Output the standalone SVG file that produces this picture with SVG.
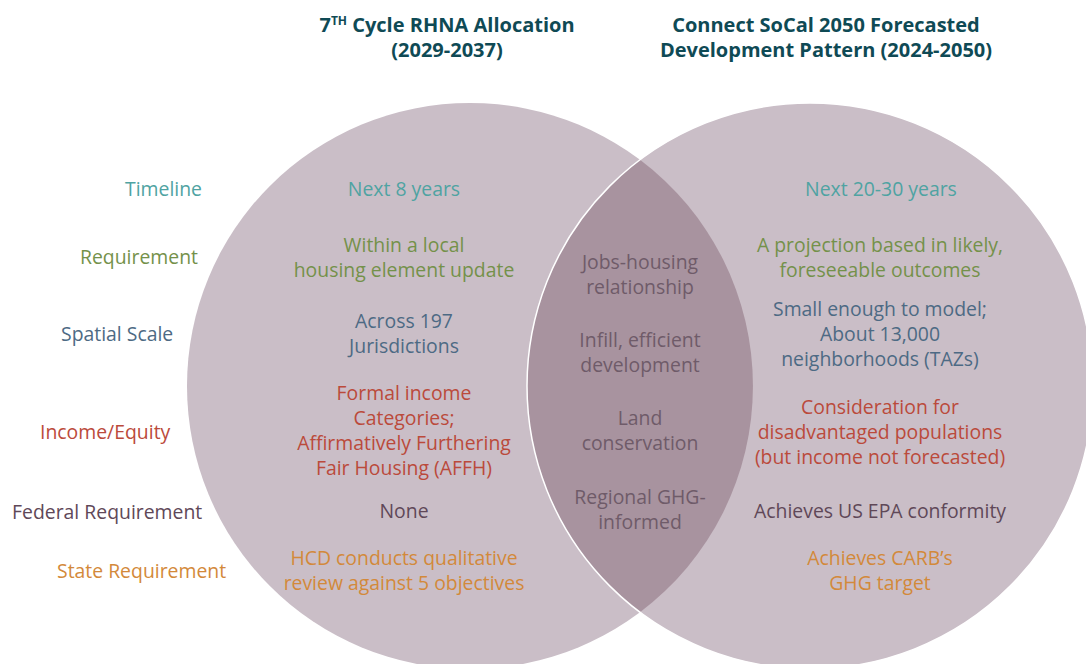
<svg xmlns="http://www.w3.org/2000/svg" width="1086" height="664" viewBox="0 0 1086 664">
<style>
text{font-family:"Open Sans","Noto Sans","Liberation Sans",sans-serif;font-size:19.4px;text-anchor:middle}
.title{font-weight:bold;font-size:20px;fill:#0f4a55}
.lbl{text-anchor:start}
.tl{fill:#4fa3a2}
.rq{fill:#74914a}
.sp{fill:#4d6a84}
.ie{fill:#bb4a3b}
.fd{fill:#5f4858}
.st{fill:#d3893a}
.ln{fill:#6f5b69}
.circ{fill:#cabec7}
</style>
<rect width="1086" height="664" fill="#ffffff"/>
<g id="titles">
<text class="title" x="447" y="32">7<tspan font-size="12" dy="-7">TH</tspan><tspan dy="7"> Cycle RHNA Allocation</tspan></text>
<text class="title" x="447" y="57">(2029-2037)</text>
<text class="title" x="826" y="32">Connect SoCal 2050 Forecasted</text>
<text class="title" x="826" y="57">Development Pattern (2024-2050)</text>
</g>
<g id="circle-rhna">
<circle class="circ" cx="470" cy="386" r="283"/>
</g>
<g id="circle-socal">
<circle class="circ" cx="810" cy="386" r="283"/>
</g>
<g id="overlap">
<path d="M640 159.8 A283 283 0 0 0 640 612.2 A283 283 0 0 0 640 159.8 Z" fill="#a8939f"/>
<circle cx="810" cy="386" r="283" fill="none" stroke="#ffffff" stroke-width="1.5"/>
</g>
<g id="row-labels">
<text class="lbl tl" x="125" y="196">Timeline</text>
<text class="lbl rq" x="80" y="264">Requirement</text>
<text class="lbl sp" x="61" y="341">Spatial Scale</text>
<text class="lbl ie" x="40" y="439">Income/Equity</text>
<text class="lbl fd" x="12" y="519">Federal Requirement</text>
<text class="lbl st" x="57" y="578">State Requirement</text>
</g>
<g id="rhna-text">
<text class="tl" x="404" y="196">Next 8 years</text>
<text class="rq" x="404" y="252">Within a local</text>
<text class="rq" x="404" y="277">housing element update</text>
<text class="sp" x="404" y="328">Across 197</text>
<text class="sp" x="404" y="353">Jurisdictions</text>
<text class="ie" x="404" y="400">Formal income</text>
<text class="ie" x="404" y="425">Categories;</text>
<text class="ie" x="404" y="450">Affirmatively Furthering</text>
<text class="ie" x="404" y="475">Fair Housing (AFFH)</text>
<text class="fd" x="404" y="518">None</text>
<text class="st" x="404" y="565">HCD conducts qualitative</text>
<text class="st" x="404" y="590">review against 5 objectives</text>
</g>
<g id="shared-text">
<text class="ln" x="640" y="269">Jobs-housing</text>
<text class="ln" x="640" y="294">relationship</text>
<text class="ln" x="640" y="347">Infill, efficient</text>
<text class="ln" x="640" y="372">development</text>
<text class="ln" x="640" y="425">Land</text>
<text class="ln" x="640" y="450">conservation</text>
<text class="ln" x="640" y="504">Regional GHG-</text>
<text class="ln" x="640" y="529">informed</text>
</g>
<g id="socal-text">
<text class="tl" x="881" y="196">Next 20-30 years</text>
<text class="rq" x="880" y="252">A projection based in likely,</text>
<text class="rq" x="880" y="277">foreseeable outcomes</text>
<text class="sp" x="880" y="316">Small enough to model;</text>
<text class="sp" x="880" y="341">About 13,000</text>
<text class="sp" x="880" y="366">neighborhoods (TAZs)</text>
<text class="ie" x="880" y="414">Consideration for</text>
<text class="ie" x="880" y="439">disadvantaged populations</text>
<text class="ie" x="880" y="464">(but income not forecasted)</text>
<text class="fd" x="880" y="518">Achieves US EPA conformity</text>
<text class="st" x="880" y="565">Achieves CARB’s</text>
<text class="st" x="880" y="590">GHG target</text>
</g>
</svg>
